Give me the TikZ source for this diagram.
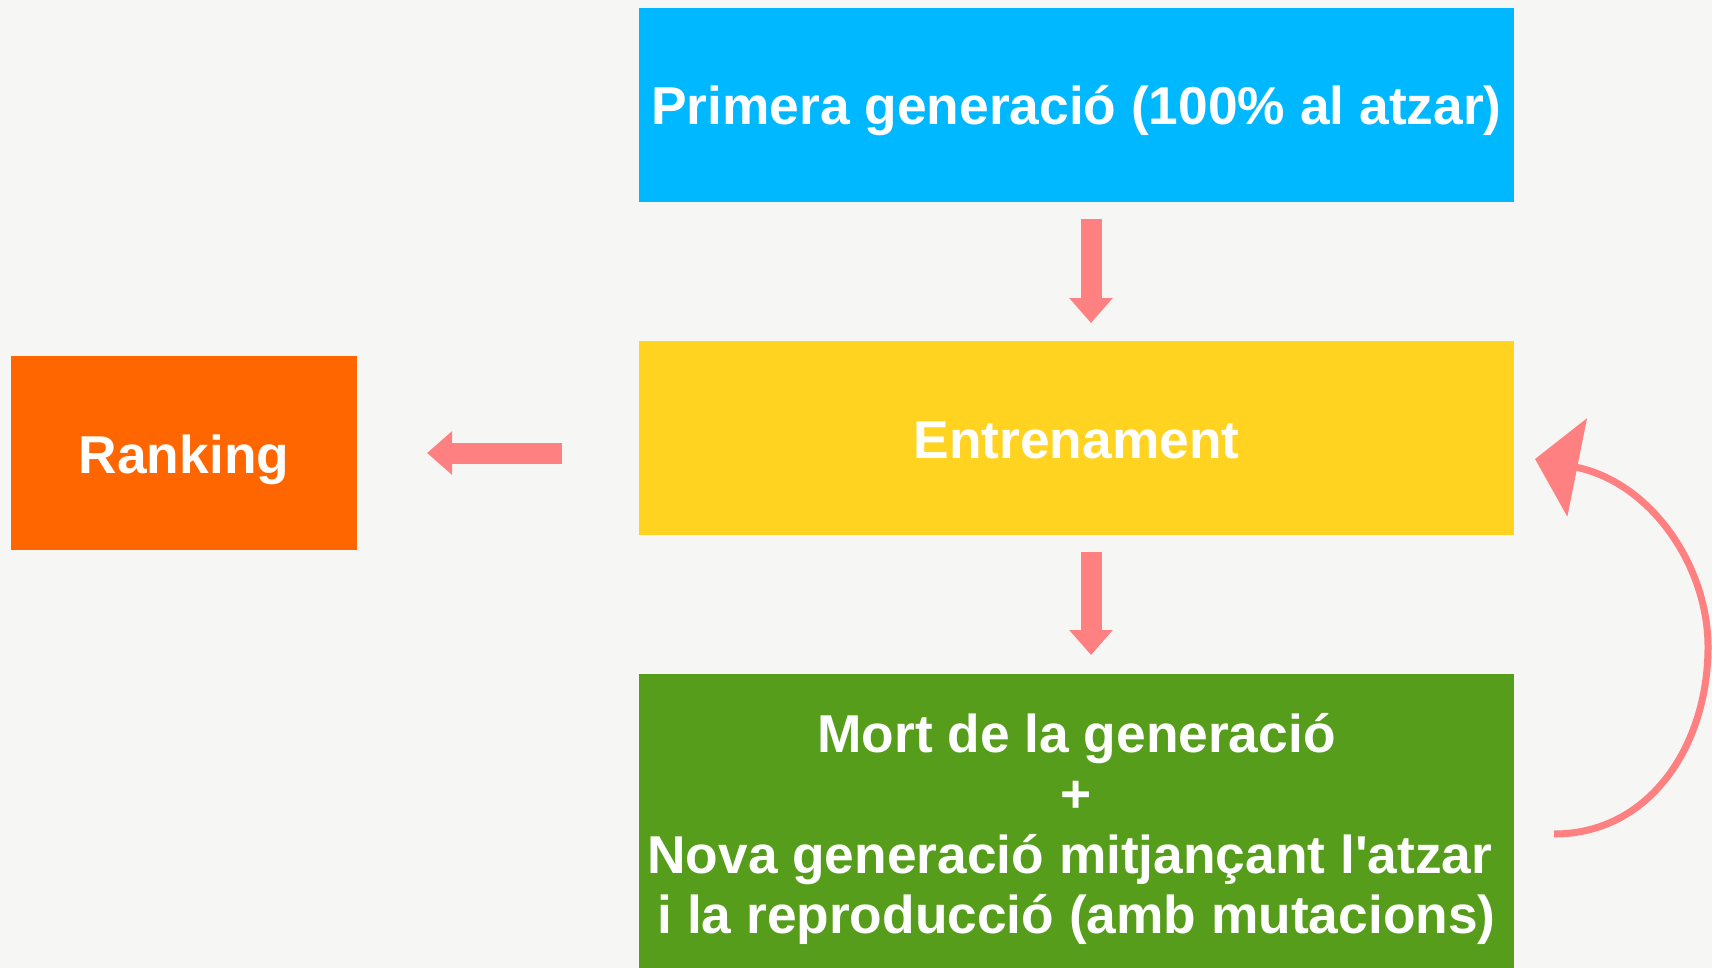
\documentclass[tikz,border=0pt]{standalone}
\usepackage{fontspec}
\setmainfont{Liberation Sans}
\usetikzlibrary{arrows.meta}
\definecolor{bgc}{HTML}{F6F6F5}
\definecolor{bluec}{HTML}{00B8FF}
\definecolor{yellowc}{HTML}{FFD320}
\definecolor{greenc}{HTML}{579D1C}
\definecolor{orangec}{HTML}{FF6600}
\definecolor{arrowc}{HTML}{FF8080}
\tikzset{
  box/.style={rectangle, draw=none, text=white, font=\fontsize{53.3}{60.5}\selectfont\bfseries,
    inner sep=0pt, align=center, minimum width=875pt, minimum height=194pt},
  oneline/.style={text height=40pt, text depth=0pt},
  fatarrow/.style={draw=arrowc, line width=21pt, -{Triangle[length=25pt,width=42pt]}},
  looparrow/.style={draw=arrowc, line width=7pt, -{Triangle[length=43pt,width=99pt]}}
}
\begin{document}
\begin{tikzpicture}[x=1pt,y=-1pt]
\fill[bgc] (0,0) rectangle (1712,968);
\useasboundingbox (0,0) rectangle (1712,968);
\begin{scope}
\clip (0,0) rectangle (1712,968);
\node[box, oneline, fill=bluec] (first) at (1076.5,105) {Primera generació (100\% al atzar)};
\node[box, oneline, fill=yellowc] (train) at (1076.5,438) {Entrenament};
\node[box, fill=greenc, minimum height=310pt] (next) at (1076.5,829)
  {Mort de la generació\\+\\Nova generació mitjançant l\textquotesingle atzar\rule{0.25em}{0pt}\\ i la reproducció (amb mutacions)};
\node[box, oneline, fill=orangec, minimum width=346pt] (rank) at (184,453) {Ranking};
\end{scope}
\coordinate (a1s) at (1091,219);
\coordinate (a1e) at (1091,323);
\coordinate (a2s) at (1091,552);
\coordinate (a2e) at (1091,655);
\coordinate (a3s) at (562,453);
\coordinate (a3e) at (427,453);
\coordinate (ls) at (1554,834);
\coordinate (le) at (1535,459);
\draw[fatarrow] (a1s) -- (a1e);
\draw[fatarrow] (a2s) -- (a2e);
\draw[fatarrow] (a3s) -- (a3e);
\draw[looparrow] (ls) .. controls (1650,834) and (1708,745) .. (1708,647)
  .. controls (1708,565) and (1650,482) .. (le);
\end{tikzpicture}
\end{document}
